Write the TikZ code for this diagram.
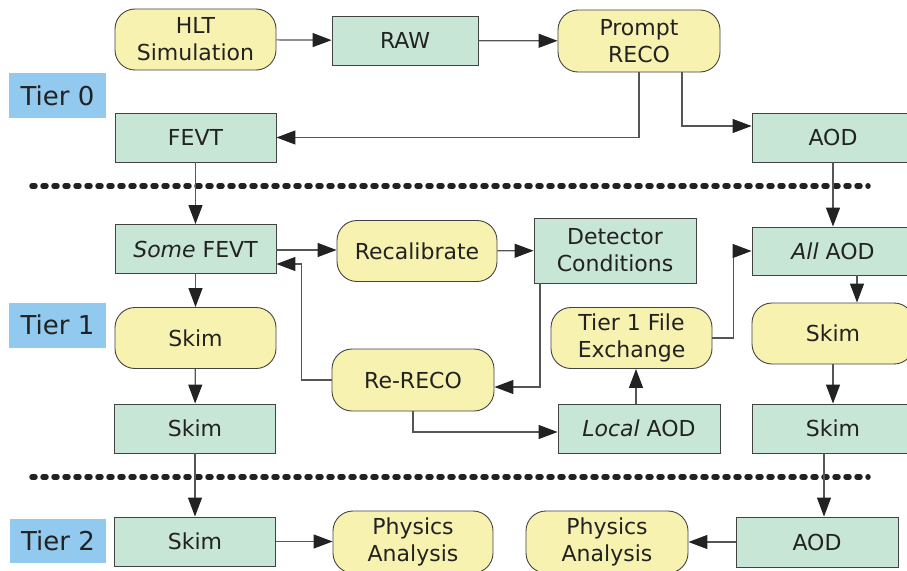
\documentclass[tikz,border=0pt]{standalone}
\usepackage{fontspec}
\setmainfont{DejaVu Sans}
\usepackage{xcolor}
\usetikzlibrary{arrows.meta}
\definecolor{procyellow}{RGB}{247,242,176}
\definecolor{datagreen}{RGB}{200,230,214}
\definecolor{tierblue}{RGB}{146,201,238}
\definecolor{inkgray}{HTML}{222222}
\definecolor{wiregray}{HTML}{555555}

\begin{document}
\begin{tikzpicture}[x=1pt,y=-1pt,
    every node/.style={font=\fontsize{22}{27}\selectfont,text=inkgray,align=center,inner sep=0pt},
    proc/.style={draw=inkgray!85,line width=0.9pt,fill=procyellow,rounded corners=20pt,minimum width=161pt,minimum height=61pt},
    data/.style={draw=inkgray!85,line width=0.9pt,fill=datagreen,minimum width=161pt,minimum height=49pt},
    tierlbl/.style={fill=tierblue,minimum width=97pt,minimum height=45pt,font=\fontsize{26}{30}\selectfont},
    flow/.style={draw=wiregray,line width=1.2pt,-{Triangle[length=19pt,width=14pt,color=inkgray]}},
    sep/.style={draw=inkgray,line width=5.5pt,line cap=round,dash pattern=on 3pt off 8pt}]
  \clip (0,0) rectangle (907,570);
  \fill[white] (0,0) rectangle (907,570);

  % tier labels
  \node[tierlbl] (tier0) at (57.5,95.5) {Tier 0};
  \node[tierlbl] (tier1) at (57.5,325) {Tier 1};
  \node[tierlbl,minimum width=96pt,minimum height=44pt] (tier2) at (58,541) {Tier 2};

  % separators
  \draw[sep] (32,186) -- (868,186);
  \draw[sep] (32,477) -- (868,477);

  % tier 0
  \node[proc] (hlt) at (195.5,39.5) {HLT\\Simulation};
  \node[data,minimum width=146pt] (raw) at (405,40.5) {RAW};
  \node[proc,minimum width=162pt,minimum height=62pt] (prompt) at (639,41) {Prompt\\RECO};
  \node[data] (fevt) at (195.5,137.5) {FEVT};
  \node[data,minimum width=162pt] (aodzero) at (833,137.5) {AOD};

  % tier 1
  \node[data] (somefevt) at (195.5,249) {\textit{Some} FEVT};
  \node[proc,minimum width=160pt] (recal) at (417,251) {Recalibrate};
  \node[data,minimum width=162pt,minimum height=65pt] (detcond) at (615,250.5) {Detector\\Conditions};
  \node[data,minimum width=162pt,minimum height=48pt] (allaod) at (833,251) {\textit{All} AOD};
  \node[proc] (skimoney) at (195.5,338) {Skim};
  \node[proc] (fileexch) at (631.5,338) {Tier 1 File\\Exchange};
  \node[proc,minimum width=162pt] (skimrighty) at (833,333.5) {Skim};
  \node[proc,minimum width=162pt,minimum height=62pt] (rereco) at (413,380) {Re-RECO};
  \node[data] (skimoneg) at (195,428.5) {Skim};
  \node[data,minimum width=162pt] (localaod) at (639,428.5) {\textit{Local} AOD};
  \node[data,minimum width=162pt] (skimrightg) at (833,428.5) {Skim};

  % tier 2
  \node[data] (skimtwo) at (195,541.5) {Skim};
  \node[proc,minimum width=160pt,minimum height=62pt] (physone) at (413,542) {Physics\\Analysis};
  \node[proc,minimum width=162pt,minimum height=62pt] (phystwo) at (607,542) {Physics\\Analysis};
  \node[data,minimum width=162pt,minimum height=50pt] (aodtwo) at (817,542) {AOD};

  % connectors
  \draw[flow] (hlt) -- (raw);
  \draw[flow] (raw) -- (prompt);
  \draw[flow] (prompt.south) |- (fevt.east);
  \draw[flow] ([xshift=43pt]prompt.south) |- ([yshift=11.5pt]aodzero.west);
  \draw[flow] (fevt) -- (somefevt);
  \draw[flow] (aodzero) -- (allaod);
  \draw[flow] ([yshift=-1pt]somefevt.east) -- ([yshift=-1pt]somefevt.east -| recal.west);
  \draw[flow] (recal) -- (detcond);
  \draw[flow] ([xshift=24pt]allaod.south) -- ([xshift=24pt]skimrighty.north);
  \draw[flow] (skimrighty) -- (skimrightg);
  \draw[flow] ([xshift=-9pt]skimrightg.south) -- ([xshift=-9pt]skimrightg.south |- aodtwo.north);
  \draw[flow] (aodtwo) -- (phystwo);
  \draw[flow] (somefevt) -- (skimoney);
  \draw[flow] (skimoney) -- (skimoneg);
  \draw[flow] (skimoneg) -- (skimtwo);
  \draw[flow] (skimtwo.east) -- (skimtwo.east -| physone.west);
  \draw[flow] ([xshift=-75pt]detcond.south) |- ([yshift=-7pt]rereco.east);
  \draw[flow] (rereco.west) -- ++(-30,0) |- ([yshift=-15pt]somefevt.east);
  \draw[flow] (rereco.south) |- ([yshift=-3.5pt]localaod.west);
  \draw[flow] ([xshift=-3pt]localaod.north) -- ([xshift=-3pt]localaod.north |- fileexch.south);
  \draw[flow] (fileexch.east) -- ++(21,0) |- (allaod.west);
\end{tikzpicture}
\end{document}
